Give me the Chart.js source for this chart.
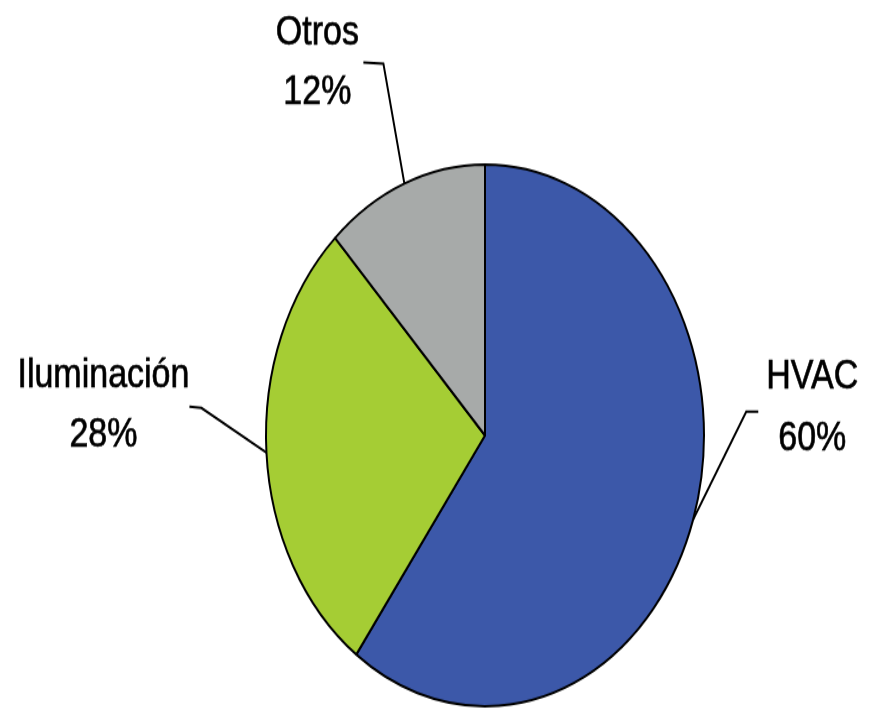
<!DOCTYPE html>
<html>
<head>
<meta charset="utf-8">
<script src="https://cdn.jsdelivr.net/npm/chart.js@4/dist/chart.umd.min.js"></script>
<style>
  html, body { margin: 0; padding: 0; background: #ffffff; }
  #wrap { width: 869px; height: 710px; }
  #c { display: block; width: 869px; height: 710px; }
</style>
</head>
<body>
<div id="wrap"><canvas id="c" width="869" height="574" style="width:869px;height:710px;"></canvas></div>
<script>
const categories = ["HVAC", "Iluminación", "Otros"];
const shares = [60, 28, 12];
const sliceColors = ["#3C58A9", "#A5CD34", "#A7AAA9"];
// label layout (offsets from the mid-point of each slice's outer edge)
const leaderLayout = [
  { elbow: [53, -87], end: [65, -87], text: [119, -106, -56] },
  { elbow: [-65, -36], end: [-77, -37], text: [-163, -53, -5] },
  { elbow: [-21, -97], end: [-41, -98], text: [-87, -112, -64] }
];

const labelPlugin = {
  id: 'pieLabels',
  afterDatasetsDraw(chart) {
    const ctx = chart.ctx;
    const meta = chart.getDatasetMeta(0);
    meta.data.forEach((arc, i) => {
      const p = arc.getProps(['x', 'y', 'startAngle', 'endAngle', 'outerRadius'], true);
      const mid = (p.startAngle + p.endAngle) / 2;
      const ex = p.x + p.outerRadius * Math.cos(mid);
      const ey = p.y + p.outerRadius * Math.sin(mid);
      const L = leaderLayout[i];
      ctx.save();
      ctx.strokeStyle = '#000';
      ctx.lineWidth = 2;
      ctx.beginPath();
      ctx.moveTo(ex, ey);
      ctx.lineTo(ex + L.elbow[0], ey + L.elbow[1]);
      ctx.lineTo(ex + L.end[0], ey + L.end[1]);
      ctx.stroke();
      ctx.fillStyle = '#000';
      ctx.strokeStyle = '#000';
      ctx.lineWidth = 0.6;
      ctx.font = '34px "Liberation Sans", Arial, sans-serif';
      ctx.textAlign = 'center';
      ctx.textBaseline = 'alphabetic';
      const tx = ex + L.text[0];
      ctx.fillText(categories[i], tx, ey + L.text[1]);
      ctx.strokeText(categories[i], tx, ey + L.text[1]);
      ctx.fillText(shares[i] + '%', tx, ey + L.text[2]);
      ctx.strokeText(shares[i] + '%', tx, ey + L.text[2]);
      ctx.restore();
    });
  }
};

new Chart(document.getElementById('c'), {
  type: 'pie',
  data: {
    labels: categories,
    datasets: [{
      data: shares,
      backgroundColor: sliceColors,
      borderColor: '#000000',
      borderWidth: 2
    }]
  },
  options: {
    responsive: false,
    devicePixelRatio: 1,
    animation: false,
    layout: { padding: { left: 265, right: 164, top: 132, bottom: 2 } },
    plugins: { legend: { display: false }, tooltip: { enabled: false } }
  },
  plugins: [labelPlugin]
});
</script>
</body>
</html>
